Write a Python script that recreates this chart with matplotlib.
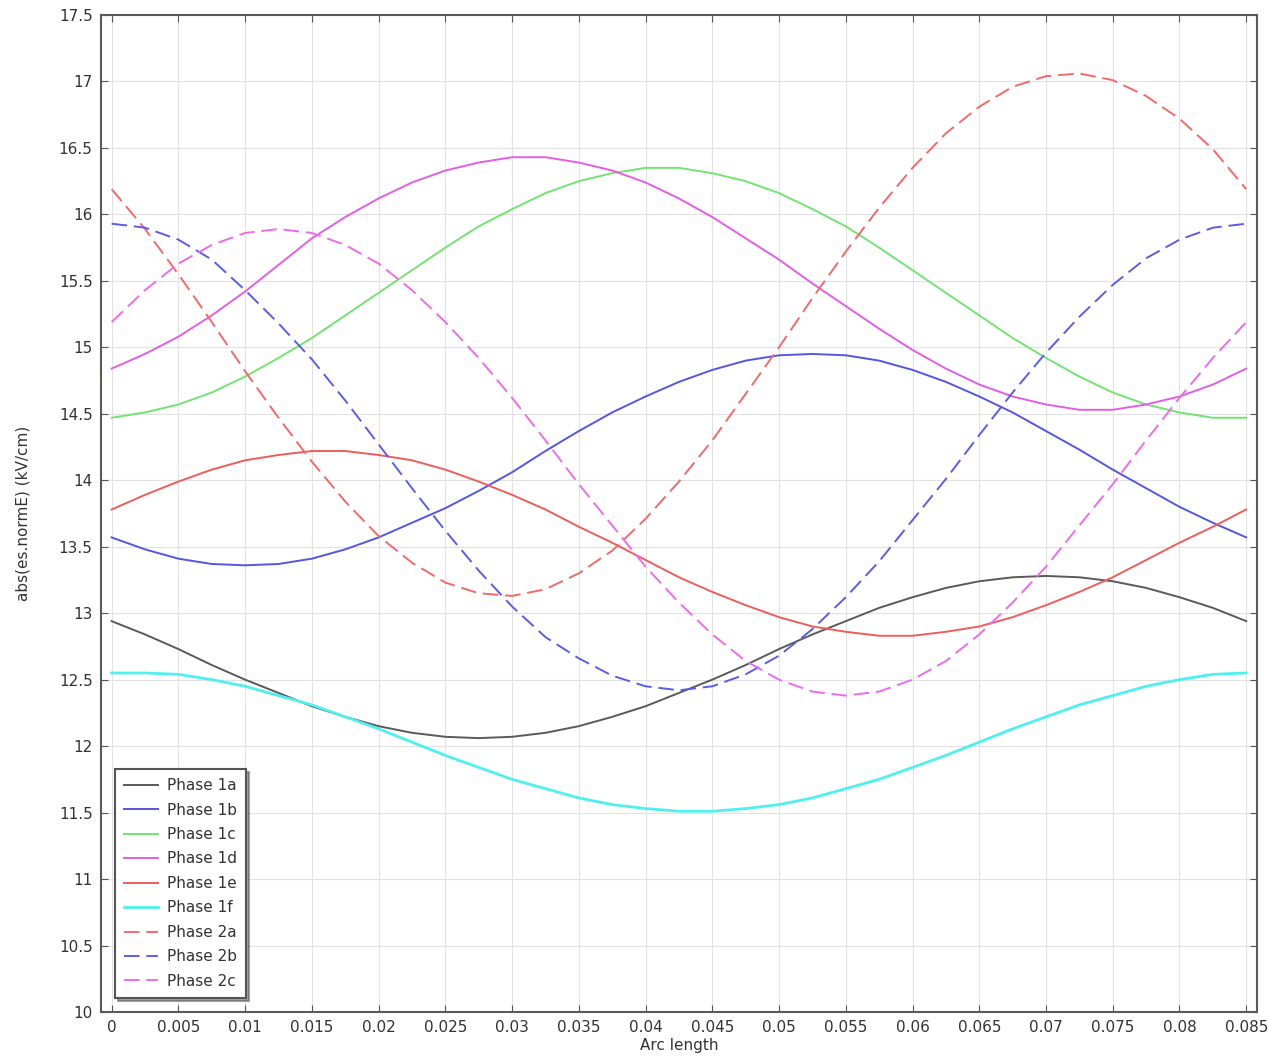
import matplotlib
matplotlib.use('Agg')
import matplotlib.pyplot as plt
from matplotlib.ticker import FuncFormatter, MultipleLocator
import numpy as np

# arc length samples (m), every 0.0025
arc = np.linspace(0, 0.085, 35)

phase_1a = [12.94, 12.84, 12.73, 12.61, 12.50, 12.40, 12.30, 12.22, 12.15, 12.10, 12.07, 12.06,
            12.07, 12.10, 12.15, 12.22, 12.30, 12.40, 12.50, 12.61, 12.73, 12.84, 12.94, 13.04,
            13.12, 13.19, 13.24, 13.27, 13.28, 13.27, 13.24, 13.19, 13.12, 13.04, 12.94]
phase_1b = [13.57, 13.48, 13.41, 13.37, 13.36, 13.37, 13.41, 13.48, 13.57, 13.68, 13.79, 13.92,
            14.06, 14.22, 14.37, 14.51, 14.63, 14.74, 14.83, 14.90, 14.94, 14.95, 14.94, 14.90,
            14.83, 14.74, 14.63, 14.51, 14.37, 14.23, 14.08, 13.94, 13.80, 13.68, 13.57]
phase_1c = [14.47, 14.51, 14.57, 14.66, 14.78, 14.92, 15.07, 15.24, 15.41, 15.58, 15.75, 15.91,
            16.04, 16.16, 16.25, 16.31, 16.35, 16.35, 16.31, 16.25, 16.16, 16.04, 15.91, 15.75,
            15.58, 15.41, 15.24, 15.07, 14.92, 14.78, 14.66, 14.57, 14.51, 14.47, 14.47]
phase_1d = [14.84, 14.95, 15.08, 15.24, 15.42, 15.62, 15.82, 15.98, 16.12, 16.24, 16.33, 16.39,
            16.43, 16.43, 16.39, 16.33, 16.24, 16.12, 15.98, 15.82, 15.66, 15.48, 15.31, 15.14,
            14.98, 14.84, 14.72, 14.63, 14.57, 14.53, 14.53, 14.57, 14.63, 14.72, 14.84]
phase_1e = [13.78, 13.89, 13.99, 14.08, 14.15, 14.19, 14.22, 14.22, 14.19, 14.15, 14.08, 13.99,
            13.89, 13.78, 13.65, 13.53, 13.40, 13.27, 13.16, 13.06, 12.97, 12.90, 12.86, 12.83,
            12.83, 12.86, 12.90, 12.97, 13.06, 13.16, 13.27, 13.40, 13.53, 13.65, 13.78]
phase_1f = [12.55, 12.55, 12.54, 12.50, 12.45, 12.38, 12.31, 12.22, 12.13, 12.03, 11.93, 11.84,
            11.75, 11.68, 11.61, 11.56, 11.53, 11.51, 11.51, 11.53, 11.56, 11.61, 11.68, 11.75,
            11.84, 11.93, 12.03, 12.13, 12.22, 12.31, 12.38, 12.45, 12.50, 12.54, 12.55]
phase_2a = [16.19, 15.89, 15.55, 15.19, 14.82, 14.47, 14.14, 13.84, 13.58, 13.38, 13.23, 13.15,
            13.13, 13.18, 13.30, 13.47, 13.71, 13.99, 14.30, 14.65, 15.00, 15.37, 15.72, 16.05,
            16.35, 16.61, 16.81, 16.96, 17.04, 17.06, 17.01, 16.89, 16.72, 16.49, 16.19]
phase_2b = [15.93, 15.90, 15.81, 15.66, 15.43, 15.18, 14.91, 14.60, 14.27, 13.94, 13.62, 13.32,
            13.05, 12.82, 12.66, 12.53, 12.45, 12.42, 12.45, 12.54, 12.68, 12.88, 13.12, 13.39,
            13.70, 14.01, 14.34, 14.66, 14.96, 15.23, 15.47, 15.67, 15.81, 15.90, 15.93]
phase_2c = [15.19, 15.43, 15.63, 15.77, 15.86, 15.89, 15.86, 15.77, 15.63, 15.43, 15.19, 14.92,
            14.62, 14.30, 13.97, 13.66, 13.35, 13.08, 12.84, 12.64, 12.50, 12.41, 12.38, 12.41,
            12.50, 12.64, 12.84, 13.08, 13.35, 13.66, 13.97, 14.30, 14.62, 14.92, 15.19]

series = [
    ('Phase 1a', phase_1a, '#5a5a5a', '-'),
    ('Phase 1b', phase_1b, '#5555e6', '-'),
    ('Phase 1c', phase_1c, '#72e472', '-'),
    ('Phase 1d', phase_1d, '#e25ee6', '-'),
    ('Phase 1e', phase_1e, '#ee5c5c', '-'),
    ('Phase 1f', phase_1f, '#4ef0f0', '-'),
    ('Phase 2a', phase_2a, '#f06a6a', '--'),
    ('Phase 2b', phase_2b, '#5c5ce8', '--'),
    ('Phase 2c', phase_2c, '#ec6cec', '--'),
]

plt.rcParams['font.family'] = ['DejaVu Sans']
text_color = '#333333'

fig = plt.figure(figsize=(12.7, 10.56), dpi=100)
ax = fig.add_axes([0.0795, 0.0417, 0.9102, 0.9441])

for name, vals, color, ls in series:
    lw = 2.0 if name == 'Phase 1f' else 1.4
    line, = ax.plot(arc, vals, color=color, linestyle=ls, linewidth=lw, label=name,
                    solid_joinstyle='round', dash_joinstyle='round')
    if ls == '--':
        line.set_dashes((8, 3.5))

ax.set_xlim(-0.0008, 0.0858)
ax.set_ylim(10, 17.5)
ax.xaxis.set_major_locator(MultipleLocator(0.005))
ax.yaxis.set_major_locator(MultipleLocator(0.5))
fmt = FuncFormatter(lambda v, p: '%g' % round(v, 4))
ax.xaxis.set_major_formatter(fmt)
ax.yaxis.set_major_formatter(fmt)

ax.grid(True, color='#e2e2e2', linewidth=0.8)
ax.set_axisbelow(True)
ax.tick_params(direction='in', length=5, width=0.8, colors='#555555',
               labelcolor=text_color, labelsize=11, top=True, right=True, pad=6)
for s in ax.spines.values():
    s.set_color('#5a5a5a')
    s.set_linewidth(1.5)

ax.set_xlabel('Arc length', fontsize=11, color=text_color, labelpad=2)
ax.set_ylabel('abs(es.normE) (kV/cm)', fontsize=11, color=text_color, labelpad=20)

leg = ax.legend(loc='lower left', bbox_to_anchor=(0.012, 0.014), borderaxespad=0,
                fontsize=11, frameon=True, fancybox=False, shadow=True,
                handlelength=2.2, labelspacing=0.62, borderpad=0.6, handletextpad=0.6)
leg.get_frame().set_edgecolor('#555555')
leg.get_frame().set_linewidth(1.5)
for t in leg.get_texts():
    t.set_color(text_color)

fig.savefig('out.png', dpi=100)
